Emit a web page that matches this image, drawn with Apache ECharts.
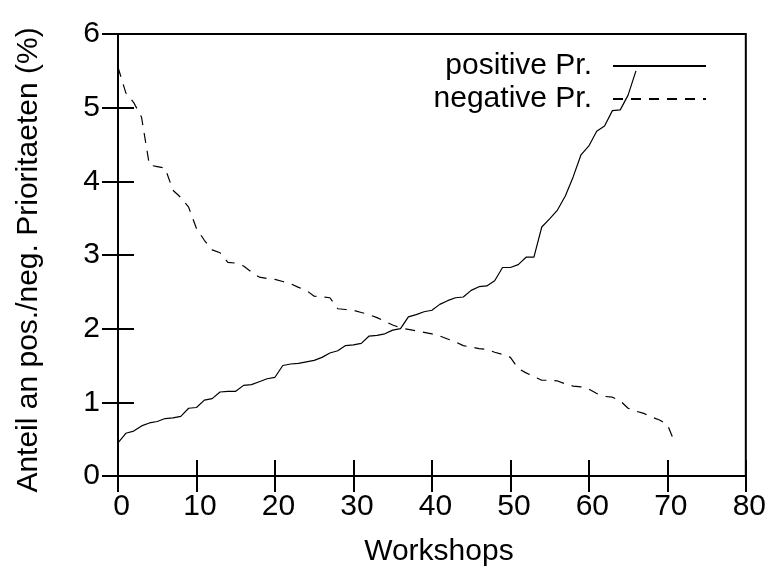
<!DOCTYPE html>
<html>
<head>
<meta charset="utf-8">
<script src="https://cdn.jsdelivr.net/npm/echarts@6/dist/echarts.min.js"></script>
<style>
  html, body { margin: 0; padding: 0; background: #fff; }
  #chart { width: 769px; height: 573px; }
</style>
</head>
<body>
<div id="chart"></div>
<script>
// Anteil positiver / negativer Prioritaeten je Workshop (sortiert)
const positiveValues = [
    0.45, 0.58, 0.61, 0.68, 0.72, 0.74, 0.78, 0.79, 0.81, 0.92,
    0.93, 1.03, 1.05, 1.14, 1.15, 1.15, 1.23, 1.24, 1.28, 1.32,
    1.34, 1.50, 1.52, 1.53, 1.55, 1.57, 1.61, 1.67, 1.70, 1.77,
    1.78, 1.80, 1.90, 1.91, 1.93, 1.98, 2.00, 2.16, 2.19, 2.23,
    2.25, 2.33, 2.38, 2.42, 2.43, 2.52, 2.57, 2.58, 2.65, 2.83,
    2.83, 2.87, 2.97, 2.97, 3.38, 3.49, 3.61, 3.80, 4.06, 4.36,
    4.48, 4.68, 4.75, 4.96, 4.97, 5.17, 5.50
];
const negativeValues = [
    5.55, 5.20, 5.07, 4.87, 4.22, 4.20, 4.18, 3.88, 3.78, 3.65,
    3.36, 3.20, 3.07, 3.03, 2.90, 2.89, 2.85, 2.77, 2.70, 2.68,
    2.67, 2.64, 2.61, 2.56, 2.52, 2.44, 2.43, 2.42, 2.27, 2.26,
    2.25, 2.22, 2.19, 2.15, 2.10, 2.05, 2.01, 1.99, 1.97, 1.95,
    1.93, 1.90, 1.86, 1.82, 1.77, 1.75, 1.73, 1.72, 1.68, 1.65,
    1.61, 1.46, 1.40, 1.35, 1.30, 1.30, 1.29, 1.25, 1.22, 1.21,
    1.18, 1.12, 1.08, 1.07, 1.02, 0.92, 0.88, 0.85, 0.80, 0.76,
    0.70, 0.44
];
const seriesNames = ["positive Pr.", "negative Pr."];
const xTicks = [0, 80, 10];   // min, max, interval
const yTicks = [0, 6, 1];

const font = "'Liberation Sans', Arial, sans-serif";
const fontSize = 30;

function toPoints(values) {
    return values.map(function (v, i) { return [i, v]; });
}

let myChart = echarts.init(document.getElementById("chart"));

const tickStyle = { show: true, inside: true, length: 16, lineStyle: { color: "#000", width: 2 } };

let option = {
    backgroundColor: "#fff",
    animation: false,
    grid: {
        left: 118, right: 23, top: 34, bottom: 97,
        show: true, borderColor: "#000", borderWidth: 2
    },
    legend: {
        orient: "vertical",
        right: 62,
        top: 51,
        padding: 0,
        align: "right",
        itemWidth: 93,
        itemHeight: 12,
        itemGap: 3,
        selectedMode: false,
        itemStyle: { opacity: 0 },
        textStyle: { fontFamily: font, fontSize: fontSize, lineHeight: 30, color: "#000", padding: [0, 16, 0, 0] },
        data: seriesNames
    },
    xAxis: [{
        type: "value",
        min: xTicks[0], max: xTicks[1], interval: xTicks[2],
        name: "Workshops",
        nameLocation: "middle",
        nameGap: 61,
        nameTextStyle: { fontFamily: font, fontSize: fontSize, color: "#000", padding: [0, 0, 0, 14] },
        axisLine: { show: false },
        axisTick: tickStyle,
        splitLine: { show: false },
        axisLabel: { fontFamily: font, fontSize: fontSize, color: "#000", margin: 16, padding: [0, 0, 0, 7] }
    }, {
        type: "value",
        position: "top",
        min: xTicks[0], max: xTicks[1], interval: xTicks[2],
        axisLine: { show: false },
        axisTick: tickStyle,
        splitLine: { show: false },
        axisLabel: { show: false }
    }],
    yAxis: [{
        type: "value",
        min: yTicks[0], max: yTicks[1], interval: yTicks[2],
        name: "Anteil an pos./neg. Prioritaeten (%)",
        nameLocation: "middle",
        nameGap: 74,
        nameTextStyle: { fontFamily: font, fontSize: fontSize, color: "#000", padding: [0, 10, 0, 0] },
        axisLine: { show: false },
        axisTick: tickStyle,
        splitLine: { show: false },
        axisLabel: { fontFamily: font, fontSize: fontSize, color: "#000", margin: 18 }
    }, {
        type: "value",
        position: "right",
        min: yTicks[0], max: yTicks[1], interval: yTicks[2],
        axisLine: { show: false },
        axisTick: tickStyle,
        splitLine: { show: false },
        axisLabel: { show: false }
    }],
    series: [{
        name: seriesNames[0],
        type: "line",
        showSymbol: false,
        symbol: "none",
        lineStyle: { color: "#000", width: 1.2, type: "solid" },
        itemStyle: { color: "#000" },
        data: toPoints(positiveValues)
    }, {
        name: seriesNames[1],
        type: "line",
        showSymbol: false,
        symbol: "none",
        lineStyle: { color: "#000", width: 1.2, type: [10, 8] },
        itemStyle: { color: "#000" },
        data: toPoints(negativeValues)
    }]
};
myChart.setOption(option);
</script>
</body>
</html>
